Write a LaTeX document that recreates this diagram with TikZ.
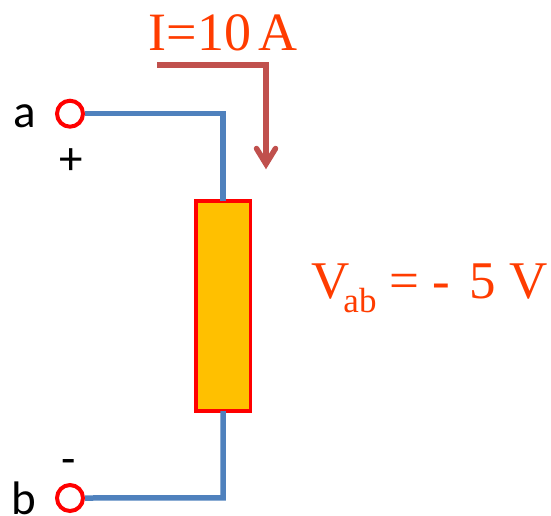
\documentclass[tikz,border=0pt]{standalone}
\usepackage{fontspec}
\setmainfont{Liberation Serif}
\newfontfamily\lblfont{Carlito}
\usetikzlibrary{calc}
\definecolor{wireblue}{HTML}{4F81BD}
\definecolor{arrowbrown}{HTML}{C0504D}
\definecolor{resfill}{HTML}{FFC000}
\definecolor{valtext}{HTML}{FF3C00}
\tikzset{
  terminal/.style={circle,draw=red,line width=4pt,fill=white,minimum size=26pt,inner sep=0pt,outer sep=2pt},
  resistor/.style={rectangle,draw=red,line width=3.5pt,fill=resfill,minimum width=54.5pt,minimum height=210pt,inner sep=0pt,outer sep=0pt},
  wire/.style={draw=wireblue,line width=5.5pt},
  currentline/.style={draw=arrowbrown,line width=5.5pt},
  val/.style={text=valtext,inner sep=0pt,anchor=base west},
  lbl/.style={font=\lblfont\fontsize{47}{47}\selectfont,inner sep=0pt,anchor=base}
}
\begin{document}
\begin{tikzpicture}[x=1pt,y=-1pt]
\useasboundingbox (0,0) rectangle (551,515);
\node[resistor] (res) at (223.2,306) {};
\node[terminal] (a) at (70,113.7) {};
\node[terminal] (b) at (70,498) {};
\coordinate (acorner) at (223.2,113.7);
\coordinate (bcorner) at (223.2,497.8);
\coordinate (istart) at (157,65);
\coordinate (icorner) at (266,65);
\coordinate (itip) at (266,164);
\draw[wire] (a.east) -- (acorner) -- (res.north);
\draw[wire] (b.east) -- (bcorner) -- (res.south);
\draw[currentline] (istart) -- (icorner) -- (itip);
\draw[currentline,line cap=round,line join=miter] ($(itip)+(-9.5,-15.5)$) -- (itip) -- ($(itip)+(9.5,-15.5)$);
\node[val,font=\fontsize{54}{54}\selectfont] (ilabel) at (148.5,50) {I=10\kern-6pt\ A};
\node[val,font=\fontsize{53}{53}\selectfont] (vlabel) at (311,298.5) {V\kern-6pt\raisebox{-13.5pt}{\fontsize{35}{35}\selectfont ab} = -\kern6pt\ 5 V};
\node[lbl] (alabel) at (25,127) {a};
\node[lbl] (blabel) at (23.5,514) {b};
\node[lbl] (plus) at (71,174) {+};
\node[lbl] (minus) at (68.5,474.5) {-};
\end{tikzpicture}
\end{document}
